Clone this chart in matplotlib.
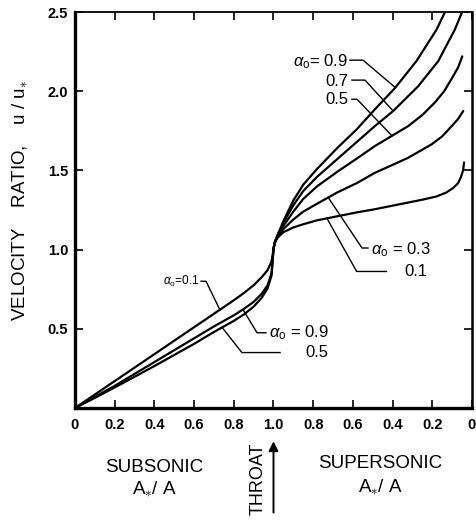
import matplotlib
matplotlib.use('Agg')
import matplotlib.pyplot as plt
import numpy as np

plt.rcParams['font.family'] = ['Liberation Sans', 'DejaVu Sans']
plt.rcParams['mathtext.fontset'] = 'custom'
plt.rcParams['mathtext.rm'] = 'Liberation Sans'
plt.rcParams['mathtext.it'] = 'Liberation Sans:italic'

# subsonic branch: A*/A from 0 to 1
sub_area = [0, 0.1, 0.2, 0.3, 0.4, 0.5, 0.6, 0.7, 0.8, 0.85, 0.9, 0.94, 0.97, 0.99, 1.0]
sub_u_01 = [0, 0.085, 0.17, 0.255, 0.34, 0.425, 0.51, 0.595, 0.68, 0.725, 0.775, 0.825, 0.87, 0.925, 1.0]
sub_u_09 = [0, 0.07, 0.14, 0.215, 0.29, 0.365, 0.44, 0.515, 0.585, 0.625, 0.67, 0.72, 0.775, 0.85, 1.0]
sub_u_05 = [0, 0.064, 0.13, 0.197, 0.265, 0.335, 0.405, 0.48, 0.55, 0.59, 0.64, 0.695, 0.755, 0.835, 1.0]

# supersonic branch: A*/A from 1 down towards 0
sup_area_09 = [1.0, 0.995, 0.98, 0.95, 0.90, 0.85, 0.78, 0.68, 0.58, 0.489, 0.388, 0.28, 0.178, 0.136]
sup_u_09 = [1.0, 1.04, 1.09, 1.18, 1.31, 1.41, 1.51, 1.64, 1.76, 1.886, 2.02, 2.19, 2.39, 2.5]
sup_area_07 = [1.0, 0.995, 0.98, 0.95, 0.90, 0.85, 0.78, 0.68, 0.58, 0.489, 0.397, 0.272, 0.17, 0.086, 0.05]
sup_u_07 = [1.0, 1.04, 1.09, 1.17, 1.28, 1.37, 1.46, 1.57, 1.68, 1.78, 1.875, 2.03, 2.19, 2.39, 2.5]
sup_area_05 = [1.0, 0.995, 0.98, 0.95, 0.90, 0.85, 0.78, 0.68, 0.58, 0.489, 0.405, 0.321, 0.25, 0.186, 0.14, 0.102, 0.07, 0.049]
sup_u_05 = [1.0, 1.04, 1.085, 1.15, 1.24, 1.32, 1.40, 1.49, 1.575, 1.654, 1.717, 1.78, 1.85, 1.93, 2.0, 2.08, 2.15, 2.22]
sup_area_03 = [1.0, 0.995, 0.98, 0.95, 0.90, 0.85, 0.78, 0.68, 0.58, 0.489, 0.40, 0.321, 0.203, 0.15, 0.102, 0.07, 0.044]
sup_u_03 = [1.0, 1.04, 1.08, 1.13, 1.19, 1.24, 1.29, 1.36, 1.42, 1.485, 1.535, 1.58, 1.665, 1.715, 1.78, 1.825, 1.875]
sup_area_01 = [1.0, 0.995, 0.98, 0.95, 0.90, 0.85, 0.78, 0.68, 0.58, 0.489, 0.35, 0.25, 0.18, 0.13, 0.094, 0.07, 0.055, 0.045, 0.04]
sup_u_01 = [1.0, 1.04, 1.075, 1.11, 1.14, 1.16, 1.185, 1.21, 1.235, 1.255, 1.29, 1.315, 1.335, 1.36, 1.39, 1.42, 1.46, 1.50, 1.55]

xtick_labels = ['0', '0.2', '0.4', '0.6', '0.8', '1.0', '0.8', '0.6', '0.4', '0.2', '0']
ytick_labels = ['0.5', '1.0', '1.5', '2.0', '2.5']

W, H = 477, 523
fig = plt.figure(figsize=(W / 100, H / 100), dpi=100)
ax = fig.add_axes([75 / W, 1 - 408 / H, 397 / W, 396 / H])

def sup_x(a):
    # folded axis: supersonic A*/A runs back from 1 to 0
    return 2 - np.asarray(a)

lw = 1.6
for u in (sub_u_01, sub_u_09, sub_u_05):
    ax.plot(sub_area, u, color='black', lw=lw, solid_capstyle='round')
for a, u in ((sup_area_09, sup_u_09), (sup_area_07, sup_u_07), (sup_area_05, sup_u_05),
             (sup_area_03, sup_u_03), (sup_area_01, sup_u_01)):
    ax.plot(sup_x(a), u, color='black', lw=lw, solid_capstyle='round')

ax.set_xlim(0, 2)
ax.set_ylim(0, 2.5)
ax.set_xticks(np.linspace(0, 2, 11))
ax.set_xticklabels(xtick_labels)
ax.set_yticks([0.5, 1.0, 1.5, 2.0, 2.5])
ax.set_yticklabels(ytick_labels)
ax.tick_params(direction='in', length=6, width=1.2, top=True, right=True,
               labelsize=10.5, pad=5)
ax.tick_params(axis='x', pad=7)
for lab in ax.get_xticklabels() + ax.get_yticklabels():
    lab.set_fontweight('bold')
ax.spines['left'].set_linewidth(2.4)
ax.spines['bottom'].set_linewidth(2.4)
ax.spines['top'].set_linewidth(1.3)
ax.spines['right'].set_linewidth(1.8)

# leader lines and labels
lk = dict(color='black', lw=1.0)
def leader(pts):
    xs, ys = zip(*pts)
    ax.plot(xs, ys, **lk, clip_on=False)

fs = 12
ax.text(1.375, 2.185, r'$\alpha_{\rm o}$= 0.9', ha='right', va='center', fontsize=fs)
leader([(1.385, 2.196), (1.451, 2.196), (1.612, 2.025)])
ax.text(1.375, 2.06, '0.7', ha='right', va='center', fontsize=fs)
leader([(1.395, 2.070), (1.461, 2.070), (1.602, 1.876)])
ax.text(1.375, 1.945, '0.5', ha='right', va='center', fontsize=fs)
leader([(1.395, 1.949), (1.421, 1.949), (1.597, 1.718)])

ax.text(1.49, 1.0, r'$\alpha_{\rm o}$ = 0.3', ha='left', va='center', fontsize=fs)
leader([(1.476, 1.01), (1.446, 1.01), (1.275, 1.33)])
ax.text(1.66, 0.862, '0.1', ha='left', va='center', fontsize=fs)
leader([(1.569, 0.862), (1.419, 0.862), (1.268, 1.20)])

ax.text(0.625, 0.80, r'$\alpha_{\rm o}$=0.1', ha='right', va='center', fontsize=8.5)
leader([(0.635, 0.80), (0.66, 0.80), (0.73, 0.62)])
ax.text(0.975, 0.475, r'$\alpha_{\rm o}$ = 0.9', ha='left', va='center', fontsize=fs)
leader([(0.962, 0.475), (0.917, 0.475), (0.846, 0.622)])
ax.text(1.16, 0.352, '0.5', ha='left', va='center', fontsize=fs)
leader([(1.033, 0.35), (0.841, 0.35), (0.74, 0.51)])

# axis titles
fig.text(20 / W, 1 - 200 / H, r'VELOCITY    RATIO,    u / u$_{\ast}$', rotation=90,
         ha='center', va='center', fontsize=13.5)
fig.text(154 / W, 1 - 467 / H, 'SUBSONIC', ha='center', va='center', fontsize=13.5)
fig.text(154 / W, 1 - 489 / H, r'A$_{\ast}$/ A', ha='center', va='center', fontsize=13.5)
fig.text(380 / W, 1 - 464 / H, 'SUPERSONIC', ha='center', va='center', fontsize=13.5)
fig.text(380 / W, 1 - 487 / H, r'A$_{\ast}$/ A', ha='center', va='center', fontsize=13.5)

# throat marker
ax.annotate('', xy=(1.0, -0.21), xytext=(1.0, -0.66), xycoords='data',
            annotation_clip=False,
            arrowprops=dict(arrowstyle='-|>', color='black', lw=1.4,
                            mutation_scale=14, shrinkA=0, shrinkB=0))
ax.text(0.925, -0.45, 'THROAT', rotation=90, ha='center', va='center',
        fontsize=13, clip_on=False)

fig.savefig('out.png', dpi=100, facecolor='white')
